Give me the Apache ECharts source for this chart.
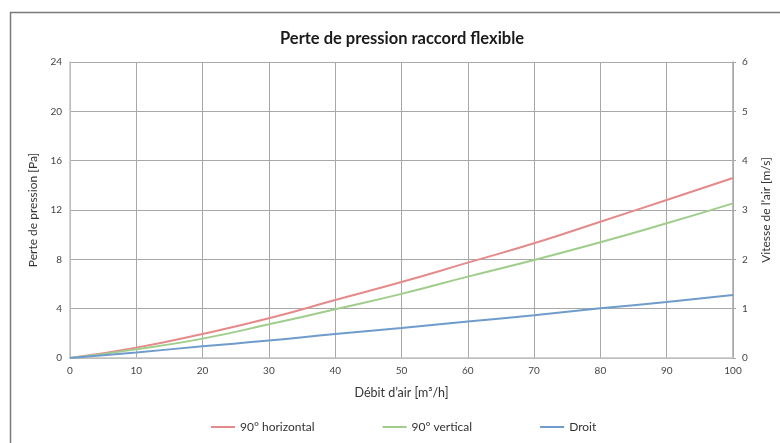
<!DOCTYPE html>
<html>
<head>
<meta charset="utf-8">
<script src="https://cdn.jsdelivr.net/npm/echarts@6/dist/echarts.min.js"></script>
<style>html,body{margin:0;padding:0;background:#fff}#c{width:780px;height:443px}</style>
</head>
<body>
<div id="c"></div>
<script>
var debit = [0, 10, 20, 30, 40, 50, 60, 70, 80, 90, 100];
var horizontal90 = [0, 0.84, 1.95, 3.22, 4.7, 6.16, 7.73, 9.3, 11.05, 12.81, 14.6];
var vertical90 = [0, 0.7, 1.57, 2.73, 3.95, 5.2, 6.6, 7.95, 9.38, 10.92, 12.54];
var droit = [0, 0.45, 0.95, 1.41, 1.95, 2.43, 2.95, 3.46, 4.03, 4.54, 5.11];
var seriesNames = ['90° horizontal', '90° vertical', 'Droit'];

function pairs(ys) { return debit.map(function (x, i) { return [x, ys[i]]; }); }

var FONT = 'Lato';
var chart = echarts.init(document.getElementById('c'), null, { renderer: 'canvas' });
chart.setOption({
  animation: false,
  backgroundColor: '#fff',
  graphic: [{
    type: 'rect', left: 8, top: 10, shape: { width: 800, height: 500 },
    style: { fill: 'none', stroke: '#7a7a7a', lineWidth: 1.5 }, silent: true
  }],
  title: {
    text: 'Perte de pression raccord flexible', left: 275, top: 25,
    textStyle: { fontFamily: FONT, fontSize: 16.5, fontWeight: 'bold', color: '#1a1a1a' }
  },
  legend: {
    data: seriesNames, left: 206, top: 416, itemWidth: 24, itemHeight: 2, itemGap: 68,
    icon: 'rect', textStyle: { fontFamily: FONT, fontSize: 12, color: '#333' }
  },
  grid: { left: 70, right: 47, top: 62, bottom: 85, containLabel: false },
  xAxis: {
    type: 'value', min: 0, max: 100, interval: 10,
    name: 'Débit d\u2019air [m³/h]', nameLocation: 'middle', nameGap: 28,
    nameTextStyle: { fontFamily: FONT, fontSize: 12.5, color: '#333' },
    axisLine: { show: true, lineStyle: { color: '#c4c4c4', width: 1.5 } },
    axisTick: { show: false },
    axisLabel: { fontFamily: FONT, fontSize: 10, color: '#444', margin: 8 },
    splitLine: { show: true, lineStyle: { color: '#a8a8a8', width: 1 } }
  },
  yAxis: [{
    type: 'value', min: 0, max: 24, interval: 4,
    name: 'Perte de pression [Pa]', nameLocation: 'middle', nameGap: 29,
    nameTextStyle: { fontFamily: FONT, fontSize: 12, color: '#333' },
    axisLine: { show: true, lineStyle: { color: '#c4c4c4', width: 1.5 } },
    axisTick: { show: false },
    axisLabel: { fontFamily: FONT, fontSize: 10, color: '#444', margin: 8 },
    splitLine: { show: true, lineStyle: { color: '#a8a8a8', width: 1 } }
  }, {
    type: 'value', min: 0, max: 6, interval: 1, position: 'right',
    name: 'Vitesse de l\u2019air [m/s]', nameLocation: 'middle', nameGap: 27,
    nameTextStyle: { fontFamily: FONT, fontSize: 12, color: '#333' },
    axisLine: { show: true, lineStyle: { color: '#a8a8a8', width: 1.5 } },
    axisTick: { show: true, length: 3, inside: false, lineStyle: { color: '#a8a8a8' } },
    axisLabel: { fontFamily: FONT, fontSize: 10, color: '#444', margin: 9 },
    splitLine: { show: false }
  }],
  series: [
    { name: seriesNames[0], type: 'line', smooth: true, showSymbol: false, data: pairs(horizontal90),
      lineStyle: { color: '#e58a8a', width: 2 }, itemStyle: { color: '#e58a8a' } },
    { name: seriesNames[1], type: 'line', smooth: true, showSymbol: false, data: pairs(vertical90),
      lineStyle: { color: '#9fcd8b', width: 2 }, itemStyle: { color: '#9fcd8b' } },
    { name: seriesNames[2], type: 'line', smooth: true, showSymbol: false, data: pairs(droit),
      lineStyle: { color: '#6f9ccb', width: 2 }, itemStyle: { color: '#6f9ccb' } }
  ]
});
</script>
</body>
</html>
